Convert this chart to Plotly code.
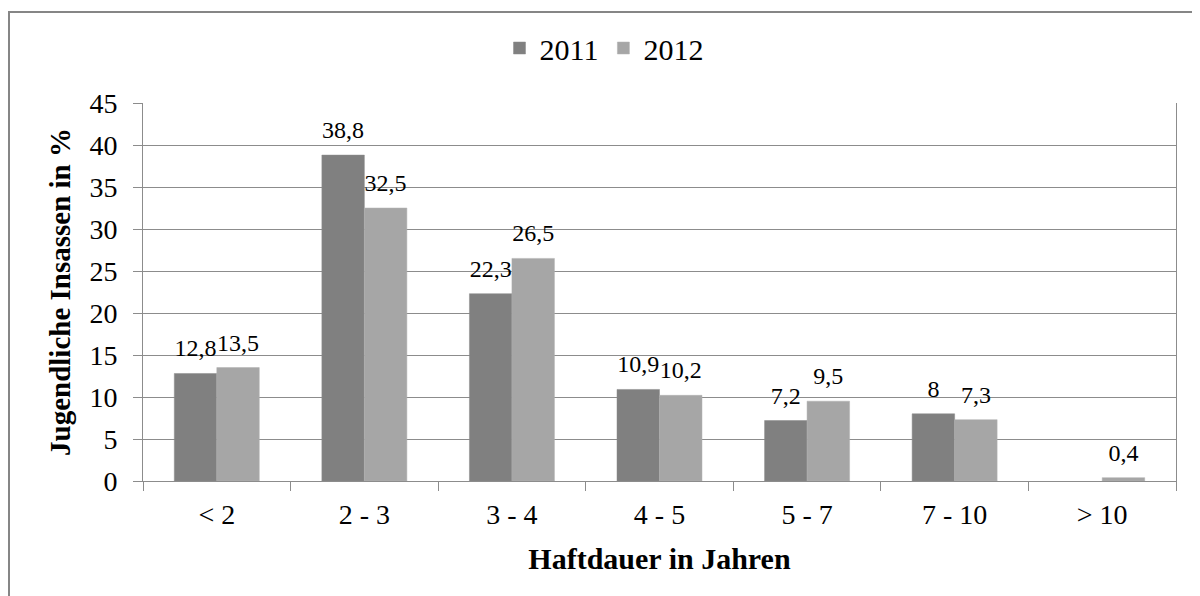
import plotly.graph_objects as go

# Haftdauer-Kategorien und Anteile (in %)
categories = ["< 2", "2 - 3", "3 - 4", "4 - 5", "5 - 7", "7 - 10", "> 10"]
values_2011 = [12.8, 38.8, 22.3, 10.9, 7.2, 8, None]
values_2012 = [13.5, 32.5, 26.5, 10.2, 9.5, 7.3, 0.4]
y_ticks = [0, 5, 10, 15, 20, 25, 30, 35, 40, 45]

FONT = "Liberation Serif, Times New Roman, serif"
GRID = "#8c8c8c"

# die Seite hat 8px Rand, deshalb ist die Figur etwas kleiner als das Fenster
W, H = 1192, 588
L, R, T, B = 135, 24, 95, 115


def fmt(v):
    if v is None:
        return ""
    return ("%g" % v).replace(".", ",")


fig = go.Figure()
series = [("2011", values_2011, "#808080", "#8a8a8a"),
          ("2012", values_2012, "#a6a6a6", "#b0b0b0")]
for name, vals, col, edge in series:
    fig.add_trace(go.Bar(
        name=name, x=categories, y=vals, offsetgroup=name,
        marker=dict(color=col, line=dict(color=edge, width=0.5)),
    ))
# Datenbeschriftungen etwas oberhalb der Balken
for name, vals, col, edge in series:
    fig.add_trace(go.Scatter(
        x=categories, y=vals, offsetgroup=name, mode="markers+text",
        marker=dict(size=16, opacity=0), showlegend=False, hoverinfo="skip",
        text=[fmt(v) for v in vals], textposition="top center",
        textfont=dict(family=FONT, size=24, color="black"),
        cliponaxis=False,
    ))

fig.update_layout(
    width=W, height=H,
    margin=dict(l=L, r=R, t=T, b=B, autoexpand=False),
    paper_bgcolor="white", plot_bgcolor="white",
    font=dict(family=FONT, color="black"),
    barmode="group", bargap=0.424, bargroupgap=0,
    scattermode="group", scattergap=0.424,
    showlegend=True,
    legend=dict(
        orientation="h", x=0.5, xanchor="center", xref="container",
        y=1 - 40 / H, yanchor="middle", yref="container",
        font=dict(family=FONT, size=30), itemwidth=30, traceorder="normal",
        bgcolor="rgba(0,0,0,0)",
    ),
)

fig.update_yaxes(
    range=[0, 45], tickvals=y_ticks, automargin=False,
    showgrid=True, gridcolor=GRID, gridwidth=1,
    showline=True, linecolor=GRID, linewidth=1, mirror=True,
    ticks="outside", ticklen=9, tickcolor=GRID, ticklabelstandoff=10,
    tickfont=dict(family=FONT, size=28),
    title=dict(text="<b>Jugendliche Insassen in %</b>", font=dict(family=FONT, size=29), standoff=10),
    zeroline=False,
)
fig.update_xaxes(
    showline=True, linecolor=GRID, linewidth=1, automargin=False,
    ticks="outside", ticklen=9, tickcolor=GRID, tickson="boundaries",
    ticklabelstandoff=8,
    tickfont=dict(family=FONT, size=28),
    title=dict(text="<b>Haftdauer in Jahren</b>", font=dict(family=FONT, size=30), standoff=19),
)

# Rahmen um das Diagramm (reicht rechts und unten über den Bildausschnitt hinaus)
pw, ph = W - L - R, H - T - B
fig.add_shape(
    type="rect", xref="paper", yref="paper",
    x0=(1 - L) / pw, x1=1.05, y0=-0.4, y1=(ph + T - 4) / ph,
    line=dict(color="#868686", width=2), layer="below",
)

fig.write_html("out.html")
